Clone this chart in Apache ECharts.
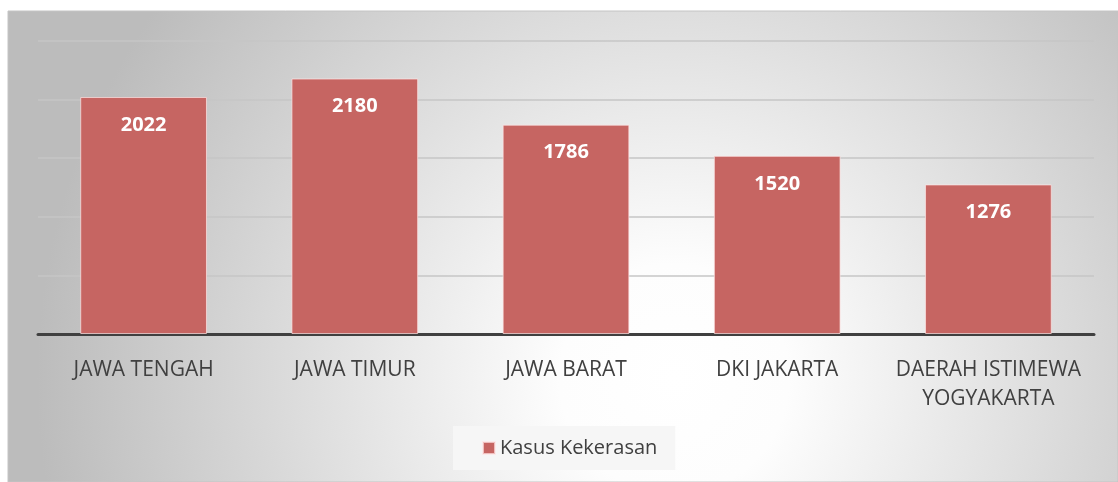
<!DOCTYPE html>
<html>
<head>
<meta charset="utf-8">
<script src="https://cdn.jsdelivr.net/npm/echarts@6/dist/echarts.min.js"></script>
<style>
  html, body { margin: 0; padding: 0; background: #fff; }
  #chart { width: 1118px; height: 482px; }
</style>
</head>
<body>
<div id="chart"></div>
<script>
// data
const categories = ["JAWA TENGAH", "JAWA TIMUR", "JAWA BARAT", "DKI JAKARTA", "DAERAH ISTIMEWA\nYOGYAKARTA"];
const kasusKekerasan = [2022, 2180, 1786, 1520, 1276];
const seriesName = "Kasus Kekerasan";

const chart = echarts.init(document.getElementById("chart"));
const font = "'Open Sans', 'DejaVu Sans', sans-serif";

const option = {
  animation: false,
  graphic: [
    {
      type: "rect",
      z: -10,
      shape: { x: 8, y: 11, width: 1110, height: 471 },
      style: {
        fill: new echarts.graphic.RadialGradient(0.6, 0.78, 1.35, [
          { offset: 0, color: "#ffffff" },
          { offset: 0.18, color: "#fdfdfd" },
          { offset: 1, color: "#bcbcbc" }
        ]),
        stroke: "#c4c4c4",
        lineWidth: 1
      }
    }
  ],
  grid: {
    left: 38,
    right: 24,
    top: 41,
    bottom: 148
  },
  legend: {
    data: [seriesName],
    left: 453,
    top: 426,
    icon: "rect",
    itemWidth: 12,
    itemHeight: 12,
    itemGap: 7,
    backgroundColor: "#f6f6f6",
    padding: [12, 18, 12, 29],
    textStyle: {
      fontFamily: font,
      fontSize: 20,
      color: "#404040"
    }
  },
  xAxis: {
    type: "category",
    data: categories,
    axisLine: { lineStyle: { color: "#404040", width: 3 } },
    axisTick: { show: false },
    axisLabel: {
      margin: 22,
      fontFamily: font,
      fontSize: 21,
      color: "#404040",
      lineHeight: 29,
      interval: 0
    }
  },
  yAxis: {
    type: "value",
    min: 0,
    max: 2500,
    interval: 500,
    axisLine: { show: false },
    axisTick: { show: false },
    axisLabel: { show: false },
    splitLine: { lineStyle: { color: "#c6c6c6", width: 1.5 } }
  },
  series: [
    {
      name: seriesName,
      type: "bar",
      data: kasusKekerasan,
      barWidth: "60%",
      itemStyle: {
        color: "#c66562",
        borderColor: "rgba(255,230,230,0.7)",
        borderWidth: 1
      },
      label: {
        show: true,
        position: "insideTop",
        distance: 18,
        fontFamily: font,
        fontWeight: "bold",
        fontSize: 20,
        color: "#ffffff"
      }
    }
  ]
};
chart.setOption(option);
</script>
</body>
</html>
